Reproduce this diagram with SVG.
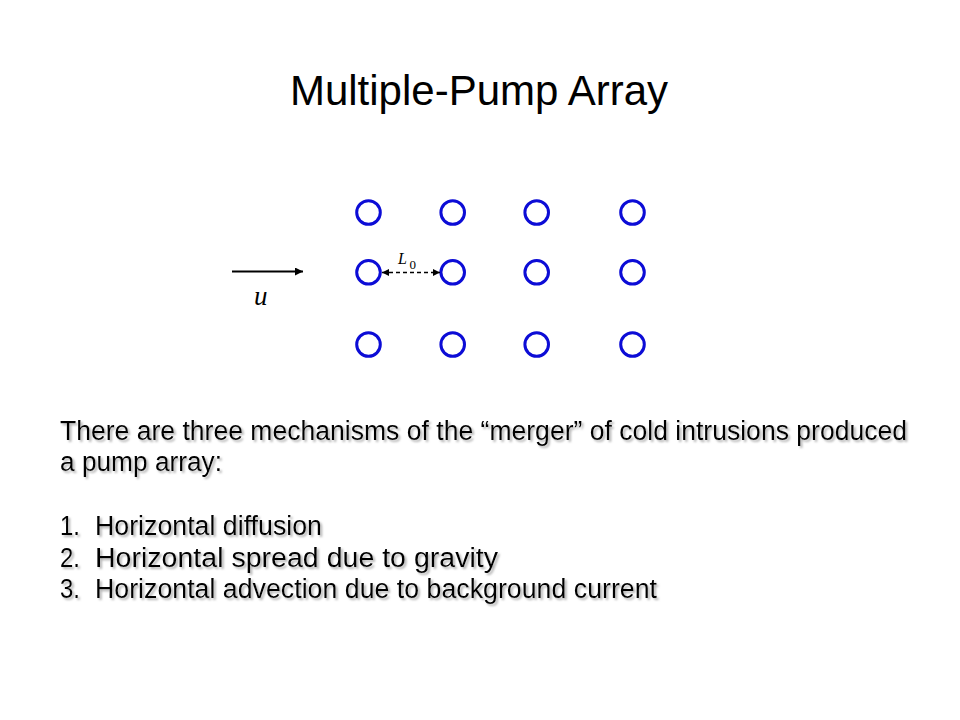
<svg xmlns="http://www.w3.org/2000/svg" width="960" height="720" viewBox="0 0 960 720">
<defs>
<style>
.title{font-family:"Liberation Sans",Arial,sans-serif;font-size:42px;fill:#000}
.body{font-family:"Liberation Sans",Arial,sans-serif;font-size:27px;fill:#000}
.pump{fill:none;stroke:#0c0cd6;stroke-width:3}
.math{font-family:"Liberation Serif","Times New Roman",serif;font-style:italic;fill:#000}
.sub{font-family:"Liberation Serif","Times New Roman",serif;fill:#000}
</style>
<filter id="shadow" x="-5%" y="-20%" width="110%" height="140%">
<feGaussianBlur in="SourceAlpha" stdDeviation="0.8" result="b"/>
<feOffset in="b" dx="2" dy="2" result="o"/>
<feFlood flood-color="#a0a0a0" flood-opacity="0.8"/>
<feComposite in2="o" operator="in" result="s"/>
<feMerge><feMergeNode in="s"/><feMergeNode in="SourceGraphic"/></feMerge>
</filter>
<marker id="ah" viewBox="0 0 10 10" refX="10" refY="5" markerWidth="8" markerHeight="8" markerUnits="userSpaceOnUse" orient="auto-start-reverse">
<path d="M0,0 L10,5 L0,10 Z" fill="#000"/>
</marker>
<marker id="ah2" viewBox="0 0 10 10" refX="10" refY="5" markerWidth="7" markerHeight="7" markerUnits="userSpaceOnUse" orient="auto-start-reverse">
<path d="M0,0 L10,5 L0,10 Z" fill="#000"/>
</marker>
</defs>
<rect width="960" height="720" fill="#fff"/>
<text class="title" x="479" y="105" text-anchor="middle">Multiple-Pump Array</text>

<g id="pumps">
<g id="p11"><circle class="pump" cx="368.5" cy="212.5" r="11.8"/></g>
<g id="p12"><circle class="pump" cx="452.7" cy="212.5" r="11.8"/></g>
<g id="p13"><circle class="pump" cx="536.7" cy="212.5" r="11.8"/></g>
<g id="p14"><circle class="pump" cx="632.5" cy="212.5" r="11.8"/></g>
<g id="p21"><circle class="pump" cx="368.5" cy="272.3" r="11.8"/></g>
<g id="p22"><circle class="pump" cx="452.7" cy="272.3" r="11.8"/></g>
<g id="p23"><circle class="pump" cx="536.7" cy="272.3" r="11.8"/></g>
<g id="p24"><circle class="pump" cx="632.5" cy="272.3" r="11.8"/></g>
<g id="p31"><circle class="pump" cx="368.5" cy="344.5" r="11.8"/></g>
<g id="p32"><circle class="pump" cx="452.7" cy="344.5" r="11.8"/></g>
<g id="p33"><circle class="pump" cx="536.7" cy="344.5" r="11.8"/></g>
<g id="p34"><circle class="pump" cx="632.5" cy="344.5" r="11.8"/></g>
</g>

<g id="connectors">
<line x1="232" y1="271.5" x2="303" y2="271.5" stroke="#000" stroke-width="2" marker-end="url(#ah)"/>
<line x1="382" y1="272.5" x2="440" y2="272.5" stroke="#000" stroke-width="1.3" stroke-dasharray="4,3" marker-start="url(#ah2)" marker-end="url(#ah2)"/>
</g>

<g id="labels">
<text class="math" x="254" y="305" font-size="27">u</text>
<text class="math" x="398" y="264" font-size="16">L</text>
<text class="sub" x="409.5" y="269" font-size="13">0</text>
</g>

<g id="body" class="body" filter="url(#shadow)">
<text x="60" y="440" textLength="847" lengthAdjust="spacingAndGlyphs">There are three mechanisms of the “merger” of cold intrusions produced</text>
<text x="60" y="471" textLength="162" lengthAdjust="spacingAndGlyphs">a pump array:</text>
<text x="60" y="535" textLength="20" lengthAdjust="spacingAndGlyphs">1.</text>
<text x="95" y="535" textLength="227" lengthAdjust="spacingAndGlyphs">Horizontal diffusion</text>
<text x="60" y="567" textLength="20" lengthAdjust="spacingAndGlyphs">2.</text>
<text x="95" y="567" textLength="403" lengthAdjust="spacingAndGlyphs">Horizontal spread due to gravity</text>
<text x="60" y="598" textLength="20" lengthAdjust="spacingAndGlyphs">3.</text>
<text x="95" y="598" textLength="562" lengthAdjust="spacingAndGlyphs">Horizontal advection due to background current</text>
</g>
</svg>
